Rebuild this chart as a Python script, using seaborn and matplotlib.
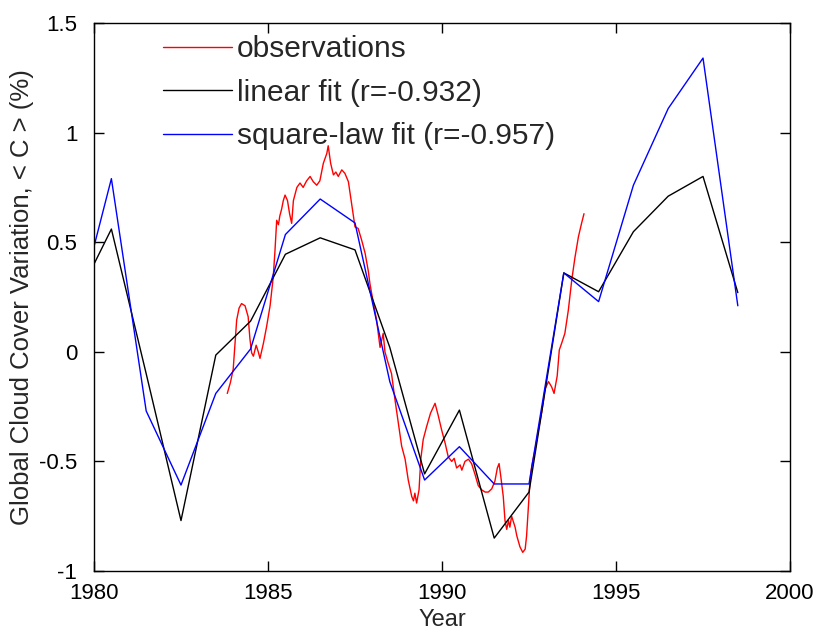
import numpy as np
import pandas as pd
import matplotlib
matplotlib.use("Agg")
import matplotlib.pyplot as plt
import seaborn as sns

# Observed global cloud cover variation (monthly-ish samples)
obs_year = [
    1983.83, 1983.92, 1984.00, 1984.05, 1984.10, 1984.17, 1984.24, 1984.34, 1984.43, 1984.48,
    1984.53, 1984.58, 1984.66, 1984.72, 1984.77, 1984.87, 1984.96, 1985.06, 1985.15, 1985.20,
    1985.25, 1985.30, 1985.34, 1985.39, 1985.44, 1985.49, 1985.56, 1985.62, 1985.68, 1985.73,
    1985.78, 1985.83, 1985.92, 1986.01, 1986.11, 1986.21, 1986.30, 1986.40, 1986.49, 1986.59,
    1986.69, 1986.73, 1986.80, 1986.88, 1986.95, 1987.02, 1987.12, 1987.21, 1987.31, 1987.40,
    1987.50, 1987.59, 1987.69, 1987.79, 1987.88, 1987.93, 1988.03, 1988.12, 1988.22, 1988.31,
    1988.36, 1988.45, 1988.55, 1988.65, 1988.75, 1988.84, 1988.94, 1989.03, 1989.13, 1989.18,
    1989.22, 1989.27, 1989.34, 1989.39, 1989.46, 1989.56, 1989.67, 1989.80, 1989.89, 1989.99,
    1990.09, 1990.18, 1990.28, 1990.35, 1990.42, 1990.52, 1990.57, 1990.66, 1990.76, 1990.85,
    1990.95, 1991.04, 1991.14, 1991.24, 1991.33, 1991.43, 1991.52, 1991.59, 1991.64, 1991.69,
    1991.76, 1991.81, 1991.86, 1991.91, 1991.95, 1992.00, 1992.10, 1992.15, 1992.24, 1992.32,
    1992.39, 1992.43, 1992.48, 1992.53, 1992.58, 1992.67, 1992.77, 1992.87, 1992.96, 1993.06,
    1993.15, 1993.22, 1993.31, 1993.37, 1993.44, 1993.53, 1993.63, 1993.73, 1993.82, 1993.92,
    1994.01, 1994.08,
]
obs_value = [
    -0.19, -0.14, -0.08, 0.03, 0.145, 0.20, 0.22, 0.21, 0.16, 0.06,
    -0.005, -0.02, 0.03, 0.00, -0.03, 0.04, 0.115, 0.21, 0.34, 0.46,
    0.60, 0.58, 0.62, 0.65, 0.69, 0.715, 0.69, 0.63, 0.586, 0.69,
    0.72, 0.75, 0.77, 0.75, 0.78, 0.80, 0.776, 0.76, 0.78, 0.86,
    0.905, 0.94, 0.86, 0.807, 0.82, 0.80, 0.83, 0.814, 0.776, 0.68,
    0.57, 0.563, 0.51, 0.45, 0.37, 0.31, 0.22, 0.145, 0.02, 0.084,
    0.00, -0.05, -0.10, -0.22, -0.33, -0.43, -0.49, -0.585, -0.66, -0.68,
    -0.645, -0.69, -0.63, -0.49, -0.40, -0.34, -0.28, -0.235, -0.29, -0.357,
    -0.417, -0.48, -0.50, -0.486, -0.53, -0.516, -0.54, -0.50, -0.49, -0.51,
    -0.56, -0.61, -0.63, -0.64, -0.64, -0.625, -0.59, -0.53, -0.51, -0.57,
    -0.66, -0.77, -0.81, -0.77, -0.80, -0.75, -0.80, -0.84, -0.89, -0.915,
    -0.90, -0.84, -0.71, -0.585, -0.52, -0.45, -0.357, -0.27, -0.17, -0.136,
    -0.16, -0.19, -0.11, 0.008, 0.04, 0.084, 0.19, 0.33, 0.43, 0.525,
    0.586, 0.63,
]

# Yearly fitted values
fit_year = [1980.0, 1980.5, 1981.5, 1982.5, 1983.5, 1984.5, 1985.5, 1986.5, 1987.5, 1988.5,
            1989.5, 1990.5, 1991.5, 1992.5, 1993.5, 1994.5, 1995.5, 1996.5, 1997.5, 1998.5]
linear_fit = [0.40, 0.56, -0.10, -0.77, -0.015, 0.14, 0.445, 0.52, 0.465, 0.02,
              -0.557, -0.266, -0.85, -0.64, 0.36, 0.274, 0.548, 0.71, 0.80, 0.27]
square_fit = [0.48, 0.79, -0.27, -0.608, -0.19, 0.013, 0.535, 0.697, 0.588, -0.136,
              -0.585, -0.433, -0.603, -0.603, 0.36, 0.229, 0.76, 1.11, 1.34, 0.21]

labels = ["observations", "linear fit (r=-0.932)", "square-law fit (r=-0.957)"]
x_ticks = [1980, 1985, 1990, 1995, 2000]
y_ticks = [-1, -0.5, 0, 0.5, 1, 1.5]
y_tick_labels = ["-1", "-0.5", "0", "0.5", "1", "1.5"]

sns.set_style("white")
plt.rcParams["font.family"] = ["Liberation Sans", "DejaVu Sans"]

fig = plt.figure(figsize=(8.18, 6.34), dpi=100)
ax = fig.add_axes([0.1149, 0.0994, 0.8509, 0.8643])

obs_df = pd.DataFrame({"year": obs_year, "value": obs_value})
fit_df = pd.DataFrame({"year": fit_year, "linear": linear_fit, "square": square_fit})

sns.lineplot(data=obs_df, x="year", y="value", ax=ax, color="#ff0000", lw=1.0,
             sort=False, estimator=None, label=labels[0])
sns.lineplot(data=fit_df, x="year", y="linear", ax=ax, color="#000000", lw=1.0,
             sort=False, estimator=None, label=labels[1])
sns.lineplot(data=fit_df, x="year", y="square", ax=ax, color="#0000ff", lw=1.0,
             sort=False, estimator=None, label=labels[2])

ax.set_xlim(1980, 2000)
ax.set_ylim(-1, 1.5)
ax.set_xticks(x_ticks)
ax.set_xticklabels([str(t) for t in x_ticks])
ax.set_yticks(y_ticks)
ax.set_yticklabels(y_tick_labels)
ax.set_xlabel("Year", fontsize=17, labelpad=3)
ax.set_ylabel("Global Cloud Cover Variation, < C > (%)", fontsize=18.5, labelpad=4)

ax.tick_params(axis="both", which="both", direction="in", length=7, width=1,
               labelsize=16, top=True, right=True, bottom=True, left=True,
               colors="black")
ax.tick_params(axis="x", pad=9)
ax.tick_params(axis="y", pad=12)
for side in ["left", "right", "top", "bottom"]:
    ax.spines[side].set_visible(True)
    ax.spines[side].set_color("black")
    ax.spines[side].set_linewidth(1.0)

ax.legend(loc="upper left", bbox_to_anchor=(0.099, 0.978), frameon=False,
          fontsize=21.5, handlelength=2.3, handletextpad=0.18, labelspacing=0.52,
          borderpad=0, borderaxespad=0)

fig.savefig("out.png", dpi=100, facecolor="white")
